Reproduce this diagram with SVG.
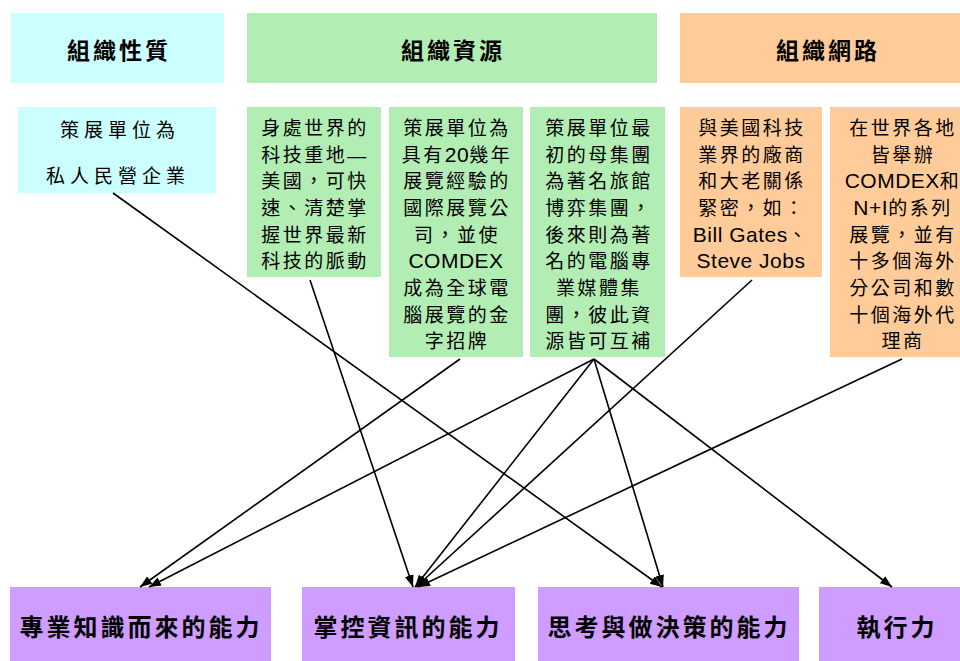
<svg xmlns="http://www.w3.org/2000/svg" width="960" height="661" viewBox="0 0 960 661">
<style>
.cy{fill:#CCFFFF}.gr{fill:#B2EDB4}.or{fill:#FFCC99}.pu{fill:#CF9CFF}
.h{font-family:"Noto Sans CJK TC","Noto Sans CJK SC",sans-serif;font-weight:bold;font-size:23px;letter-spacing:3px;text-anchor:middle;fill:#000}
.b{font-family:"Liberation Sans","Noto Sans CJK TC",sans-serif;font-size:19px;letter-spacing:2.5px;text-anchor:middle;fill:#000}
.l{font-size:21px;letter-spacing:0.5px}
.f{font-family:"Noto Sans CJK TC","Noto Sans CJK SC",sans-serif;font-weight:bold;font-size:24px;letter-spacing:3px;text-anchor:middle;fill:#000}
.c{stroke:#000;stroke-width:1.6;fill:none;marker-end:url(#ah)}
</style>
<defs>
<marker id="ah" markerUnits="userSpaceOnUse" markerWidth="13" markerHeight="10" refX="12" refY="4.5" orient="auto">
<path d="M0,0 L12,4.5 L0,9 z" fill="#000"/>
</marker>
</defs>
<rect width="960" height="661" fill="#fff"/>

<g id="h1"><rect class="cy" x="11" y="13" width="213" height="70"/><text class="h" x="119" y="59">組織性質</text></g>
<g id="h2"><rect class="gr" x="247" y="13" width="410" height="70"/><text class="h" x="453" y="59">組織資源</text></g>
<g id="h3"><rect class="or" x="680" y="13" width="292" height="70"/><text class="h" x="828" y="59">組織網路</text></g>

<g id="n1"><rect class="cy" x="18" y="107" width="198" height="86"/>
<text class="b" style="letter-spacing:5px" x="120" y="137">策展單位為</text>
<text class="b" style="letter-spacing:5px" x="118" y="183">私人民營企業</text></g>

<g id="n2"><rect class="gr" x="247" y="107" width="134" height="170"/>
<text class="b" x="315" y="135">身處世界的</text>
<text class="b" x="315" y="161.7">科技重地—</text>
<text class="b" x="315" y="188.3">美國，可快</text>
<text class="b" x="315" y="215">速、清楚掌</text>
<text class="b" x="315" y="241.7">握世界最新</text>
<text class="b" x="315" y="268.3">科技的脈動</text></g>

<g id="n3"><rect class="gr" x="389" y="107" width="134" height="250"/>
<text class="b" x="457" y="135">策展單位為</text>
<text class="b" x="457" y="161.7">具有<tspan class="l">20</tspan>幾年</text>
<text class="b" x="457" y="188.3">展覽經驗的</text>
<text class="b" x="457" y="215">國際展覽公</text>
<text class="b" x="457" y="241.7">司，並使</text>
<text class="b" x="456" y="268.3"><tspan class="l">COMDEX</tspan></text>
<text class="b" x="457" y="295">成為全球電</text>
<text class="b" x="457" y="321.7">腦展覽的金</text>
<text class="b" x="457" y="348.3">字招牌</text></g>

<g id="n4"><rect class="gr" x="530" y="107" width="135" height="250"/>
<text class="b" x="599" y="135">策展單位最</text>
<text class="b" x="599" y="161.7">初的母集團</text>
<text class="b" x="599" y="188.3">為著名旅館</text>
<text class="b" x="599" y="215">博弈集團，</text>
<text class="b" x="599" y="241.7">後來則為著</text>
<text class="b" x="599" y="268.3">名的電腦專</text>
<text class="b" x="599" y="295">業媒體集</text>
<text class="b" x="599" y="321.7">團，彼此資</text>
<text class="b" x="599" y="348.3">源皆可互補</text></g>

<g id="n5"><rect class="or" x="680" y="107" width="142" height="170"/>
<text class="b" x="752" y="135">與美國科技</text>
<text class="b" x="752" y="161.7">業界的廠商</text>
<text class="b" x="752" y="188.3">和大老關係</text>
<text class="b" x="752" y="215">緊密，如：</text>
<text class="b" x="751" y="241.7"><tspan class="l">Bill Gates</tspan>、</text>
<text class="b" x="751" y="268.3"><tspan class="l">Steve Jobs</tspan></text></g>

<g id="n6"><rect class="or" x="830" y="107" width="142" height="250"/>
<text class="b" x="903" y="135">在世界各地</text>
<text class="b" x="903" y="161.7">皆舉辦</text>
<text class="b" x="903" y="188.3"><tspan class="l">COMDEX</tspan>和</text>
<text class="b" x="903" y="215"><tspan class="l">N+I</tspan>的系列</text>
<text class="b" x="903" y="241.7">展覽，並有</text>
<text class="b" x="903" y="268.3">十多個海外</text>
<text class="b" x="903" y="295">分公司和數</text>
<text class="b" x="903" y="321.7">十個海外代</text>
<text class="b" x="903" y="348.3">理商</text></g>

<g id="b1"><rect class="pu" x="10" y="587" width="261" height="74"/><text class="f" x="141" y="636">專業知識而來的能力</text></g>
<g id="b2"><rect class="pu" x="302" y="587" width="213" height="74"/><text class="f" x="408" y="636">掌控資訊的能力</text></g>
<g id="b3"><rect class="pu" x="538" y="587" width="261" height="74"/><text class="f" x="669" y="636">思考與做決策的能力</text></g>
<g id="b4"><rect class="pu" x="819" y="587" width="153" height="74"/><text class="f" x="897" y="636">執行力</text></g>

<g id="connectors">
<line class="c" x1="113" y1="193" x2="662" y2="587"/>
<line class="c" x1="310" y1="280" x2="413" y2="587"/>
<line class="c" x1="460" y1="359" x2="140" y2="587"/>
<line class="c" x1="594" y1="359" x2="149" y2="587"/>
<line class="c" x1="594" y1="359" x2="415" y2="587"/>
<line class="c" x1="594" y1="359" x2="663" y2="587"/>
<line class="c" x1="594" y1="359" x2="892" y2="587"/>
<line class="c" x1="752" y1="280" x2="416" y2="587"/>
<line class="c" x1="902" y1="359" x2="418" y2="587"/>
</g>
</svg>
